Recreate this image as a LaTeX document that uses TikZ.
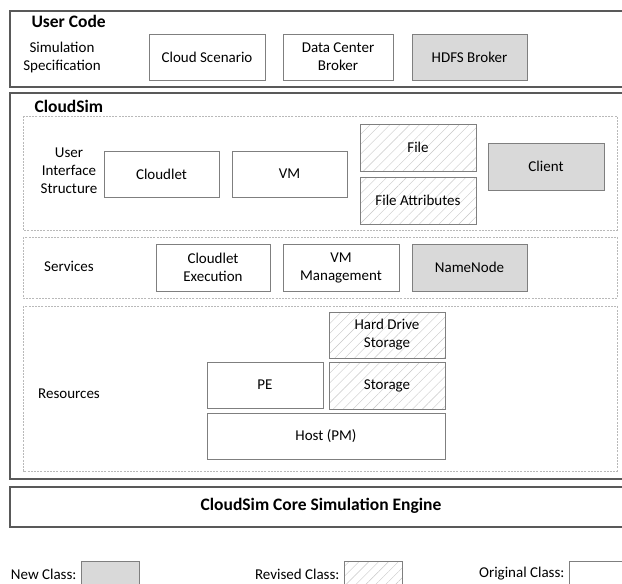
\documentclass[tikz,border=0pt]{standalone}
\usepackage{fontspec}
\setmainfont{Carlito}
\usepackage{tikz}
\usetikzlibrary{patterns.meta}
\definecolor{newfill}{HTML}{D9D9D9}
\definecolor{edgegray}{HTML}{7F7F7F}
\definecolor{framegray}{HTML}{595959}

\begin{document}
\begin{tikzpicture}[x=1pt,y=-1pt,
  font=\fontsize{15}{18}\selectfont,
  cls/.style={draw=edgegray, line width=0.8pt, align=center, inner sep=0pt,
    minimum width=116pt, minimum height=46pt},
  newcls/.style={cls, fill=newfill},
  revcls/.style={cls, pattern={Lines[angle=45,distance=7pt,line width=0.4pt]},
    pattern color=gray!45},
  layerbox/.style={draw=framegray, line width=1.3pt},
  tierbox/.style={draw=gray!55, line width=0.6pt, dash pattern=on 2pt off 1.2pt},
  head/.style={font=\fontsize{17.5}{21}\selectfont\bfseries, anchor=west},
  lbl/.style={align=center}]
  \useasboundingbox (0,0) rectangle (622,584);
  \clip (0,0) rectangle (622,584);

  \draw[layerbox] (10,11) rectangle (640,87);
  \draw[layerbox] (10,93) rectangle (640,479);
  \draw[layerbox] (10,487) rectangle (640,527);
  \draw[tierbox] (23,116) rectangle (617,230);
  \draw[tierbox] (23,237) rectangle (617,298);
  \draw[tierbox] (23,306) rectangle (617,471);

  \node[head] (usercode) at (28,21) {User Code};
  \node[lbl] (simspec) at (62,57) {Simulation\\Specification};
  \node[cls] (scenario) at (207,57) {Cloud Scenario};
  \node[cls, minimum width=110pt] (dcbroker) at (338,57) {Data Center\\Broker};
  \node[newcls, minimum width=115pt] (hdfsbroker) at (469.5,57) {HDFS Broker};

  \node[head] (cloudsim) at (31,106) {CloudSim};
  \node[lbl] (uistruct) at (69,171) {User\\Interface\\Structure};
  \node[cls, minimum width=115pt] (cloudlet) at (161.5,174) {Cloudlet};
  \node[cls, minimum width=115pt] (vm) at (289.5,174) {VM};
  \node[revcls, minimum height=47pt] (file) at (418,147.5) {File};
  \node[revcls, minimum height=47pt] (fileattr) at (418,200.5) {File Attributes};
  \node[newcls, minimum height=47pt] (client) at (546,166.5) {Client};

  \node[lbl] (services) at (69,266) {Services};
  \node[cls, minimum width=114pt, minimum height=47pt] (cletexec) at (213,267.5) {Cloudlet\\Execution};
  \node[cls, minimum height=47pt] (vmmgmt) at (341,267.5) {VM\\Management};
  \node[newcls, minimum width=115pt, minimum height=47pt] (namenode) at (469.5,267.5) {NameNode};

  \node[lbl] (resources) at (69,394) {Resources};
  \node[revcls] (hdstorage) at (387,335) {Hard Drive\\Storage};
  \node[revcls, minimum height=47pt] (storage) at (387,385.5) {Storage};
  \node[cls] (pe) at (265,385) {PE};
  \node[cls, minimum width=238pt] (host) at (326,436) {Host (PM)};

  \node[font=\fontsize{17.5}{21}\selectfont\bfseries] (engine) at (321,506) {CloudSim Core Simulation Engine};

  \node[lbl, anchor=east, inner ysep=1pt] (newtxt) at (80,574) {New Class:};
  \node[newcls, minimum width=58pt, minimum height=30pt] (newkey) at (110,576) {};
  \node[lbl, anchor=east, inner ysep=1pt] (revtxt) at (343,574) {Revised Class:};
  \node[revcls, minimum width=58pt, minimum height=30pt] (revkey) at (373,576) {};
  \node[lbl, anchor=east, inner ysep=1pt] (origtxt) at (568,574) {Original Class:};
  \node[cls, minimum width=70pt, minimum height=30pt] (origkey) at (604,576) {};
\end{tikzpicture}
\end{document}
